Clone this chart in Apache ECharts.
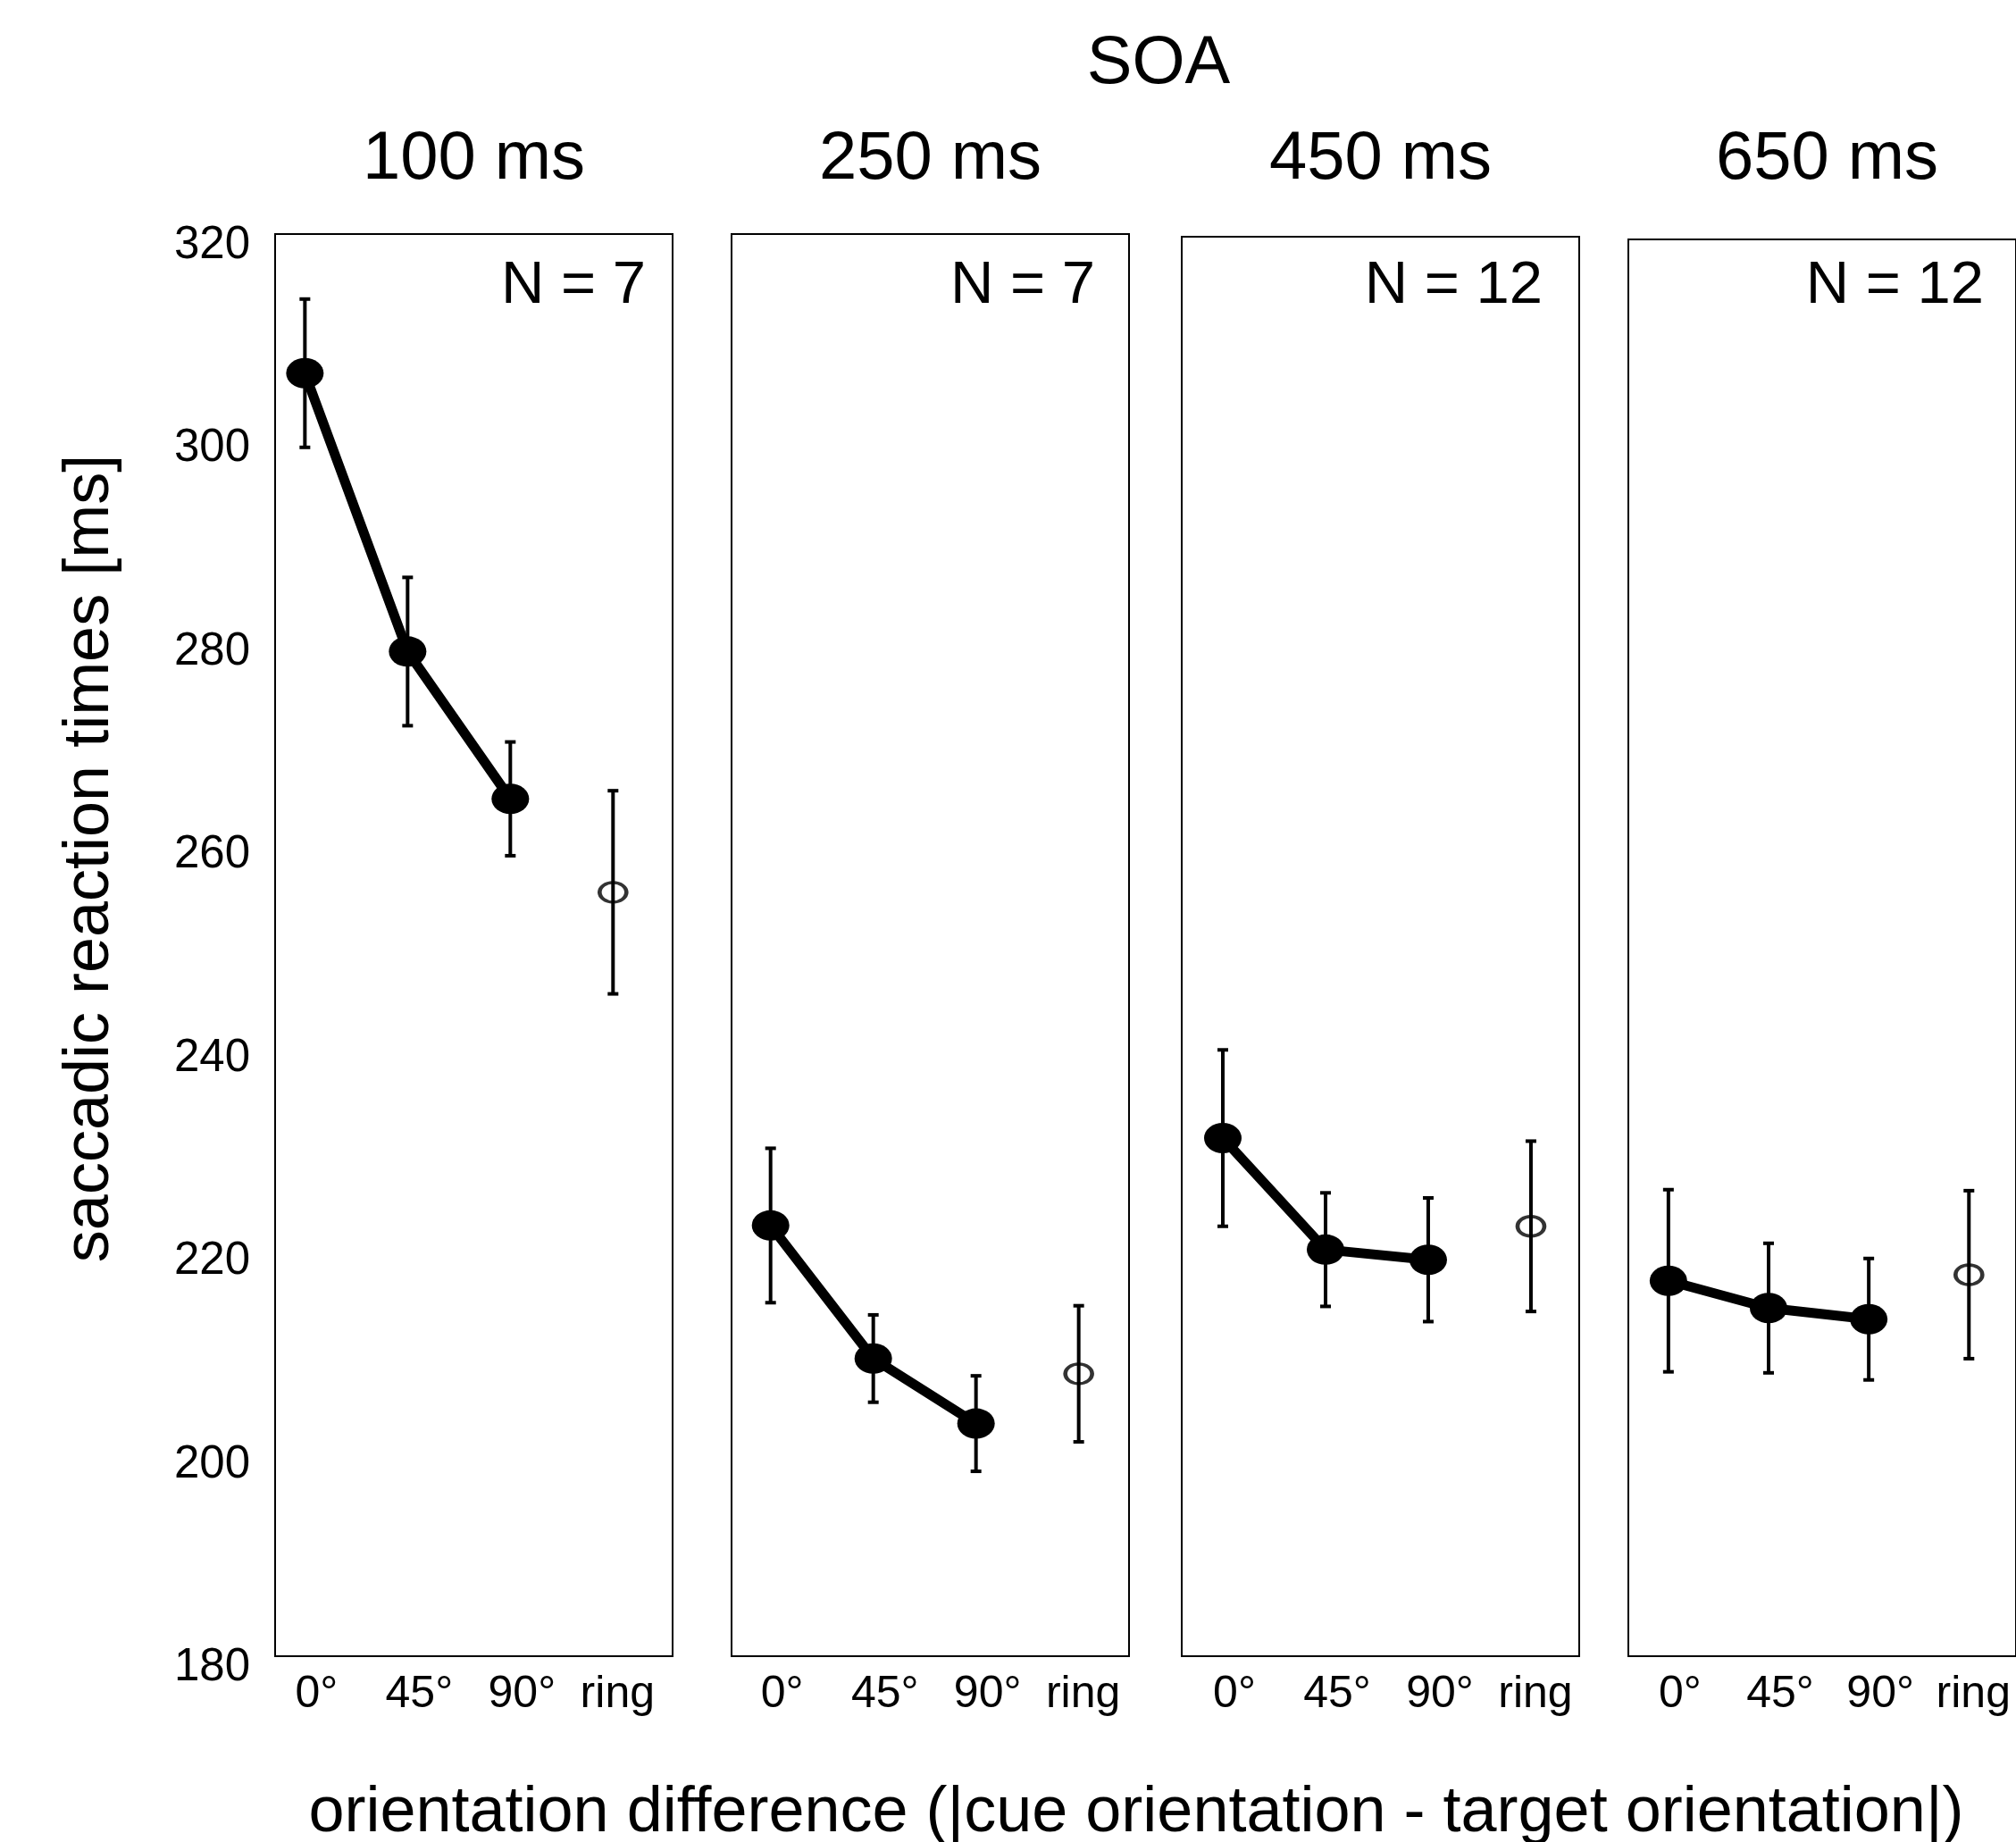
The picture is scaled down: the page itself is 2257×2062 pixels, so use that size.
<!DOCTYPE html>
<html>
<head>
<meta charset="utf-8">
<title>Saccadic reaction times by SOA</title>
<script src="https://cdn.jsdelivr.net/npm/echarts@6/dist/echarts.min.js"></script>
<style>
  html, body { margin: 0; padding: 0; background: #fff; }
  #chart { width: 2257px; height: 2062px; }
</style>
</head>
<body>
<div id="chart"></div>
<script>
// ── Data ───────────────────────────────────────────────
const conditions = ['0°', '45°', '90°', 'ring'];
const soaLabels  = ['100 ms', '250 ms', '450 ms', '650 ms'];
const nLabels    = ['N = 7', 'N = 7', 'N = 12', 'N = 12'];

// mean saccadic RT [ms] and error (half bar length) per condition
const soa100Mean = [306.3, 278.9, 264.4, 255.2];
const soa100Err  = [7.3, 7.3, 5.6, 10.0];
const soa250Mean = [222.4, 209.3, 202.9, 207.8];
const soa250Err  = [7.6, 4.3, 4.7, 6.7];
const soa450Mean = [231.1, 220.1, 219.1, 222.4];
const soa450Err  = [8.7, 5.6, 6.1, 8.4];
const soa650Mean = [217.1, 214.4, 213.3, 217.7];
const soa650Err  = [9.0, 6.4, 6.0, 8.3];

const yTicks = [180, 200, 220, 240, 260, 280, 300, 320];

const means = [soa100Mean, soa250Mean, soa450Mean, soa650Mean];
const errs  = [soa100Err, soa250Err, soa450Err, soa650Err];

// ── Layout ─────────────────────────────────────────────
const FONT        = '"Liberation Sans", Arial, sans-serif';
const PANEL_LEFT  = [308, 819, 1323, 1823];
const PANEL_TOP   = [262, 262, 265, 268];
const PANEL_W     = 445;
const PANEL_BOT   = 1854;
const X_MIN       = [-0.29, -0.38, -0.4, -0.4];
const X_SPAN      = 3.87;
const N_RIGHT     = [723, 1226, 1727, 2221];

const chart = echarts.init(document.getElementById('chart'));

const grids = [], xAxes = [], yAxes = [], series = [], graphics = [];

function label(text, x, y, size, align, extra) {
  return Object.assign({
    type: 'text', x: x, y: y,
    style: { text: text, fontSize: size, fontFamily: FONT, fill: '#000',
             textAlign: align, textVerticalAlign: 'middle', align: align, verticalAlign: 'middle' },
  }, extra || {});
}

PANEL_LEFT.forEach((left, i) => {
  grids.push({
    left: left, top: PANEL_TOP[i], width: PANEL_W, height: PANEL_BOT - PANEL_TOP[i],
    show: true, borderColor: '#000', borderWidth: 2, backgroundColor: 'transparent',
  });

  xAxes.push({
    type: 'value', gridIndex: i,
    min: X_MIN[i], max: X_MIN[i] + X_SPAN,
    axisLine: { show: false }, axisTick: { show: false }, splitLine: { show: false },
    axisLabel: {
      customValues: [0, 1, 2, 3],
      margin: 18,
      formatter: v => '{' + (v === 3 ? 'r' : 'd') + '|' + conditions[v] + '}',
      rich: {
        d: { fontSize: 50, fontFamily: FONT, color: '#000', padding: [0, 0, 0, 26] },
        r: { fontSize: 50, fontFamily: FONT, color: '#000', padding: [0, 0, 0, 10] },
      },
    },
  });

  yAxes.push({
    type: 'value', gridIndex: i,
    min: yTicks[0], max: yTicks[yTicks.length - 1], interval: 20,
    axisLine: { show: false }, axisTick: { show: false }, splitLine: { show: false },
    axisLabel: {
      show: i === 0,
      margin: 28,
      formatter: v => '{v|' + v + '}',
      rich: { v: { fontSize: 51, fontFamily: FONT, color: '#000', padding: [26, 0, 0, 0] } },
    },
  });

  // error bars
  series.push({
    type: 'custom', xAxisIndex: i, yAxisIndex: i, z: 2,
    data: means[i].map((m, k) => [k, m - errs[i][k], m + errs[i][k]]),
    renderItem(params, api) {
      const lo = api.coord([api.value(0), api.value(1)]);
      const hi = api.coord([api.value(0), api.value(2)]);
      const cap = 6;
      const style = { stroke: '#000', lineWidth: 4 };
      return {
        type: 'group',
        children: [
          { type: 'line', shape: { x1: lo[0], y1: lo[1], x2: hi[0], y2: hi[1] }, style },
          { type: 'line', shape: { x1: lo[0] - cap, y1: lo[1], x2: lo[0] + cap, y2: lo[1] }, style },
          { type: 'line', shape: { x1: hi[0] - cap, y1: hi[1], x2: hi[0] + cap, y2: hi[1] }, style },
        ],
      };
    },
  });

  // oriented cues (filled, connected)
  series.push({
    type: 'line', xAxisIndex: i, yAxisIndex: i, z: 3,
    data: means[i].slice(0, 3).map((m, k) => [k, m]),
    symbol: 'circle', symbolSize: [42, 34], showSymbol: true,
    lineStyle: { color: '#000', width: 11 },
    itemStyle: { color: '#000' },
  });

  // ring cue (open)
  series.push({
    type: 'scatter', xAxisIndex: i, yAxisIndex: i, z: 4,
    data: [[3, means[i][3]]],
    symbol: 'circle', symbolSize: [30, 22],
    itemStyle: { color: 'rgba(0,0,0,0)', borderColor: '#000', borderWidth: 4 },
  });

  graphics.push(label(soaLabels[i], left + PANEL_W / 2, 179, 76, 'center'));
  graphics.push(label(nLabels[i], N_RIGHT[i], 321, 67, 'right'));
});

graphics.push(
  label('SOA', 1297, 72, 76, 'center'),
  label('saccadic reaction times [ms]', 101, 961, 72, 'center', { rotation: Math.PI / 2 }),
  label('orientation difference (|cue orientation - target orientation|)', 1272, 2030, 72, 'center')
);

chart.setOption({
  backgroundColor: '#fff',
  animation: false,
  grid: grids,
  xAxis: xAxes,
  yAxis: yAxes,
  series: series,
  graphic: graphics,
});
</script>
</body>
</html>
